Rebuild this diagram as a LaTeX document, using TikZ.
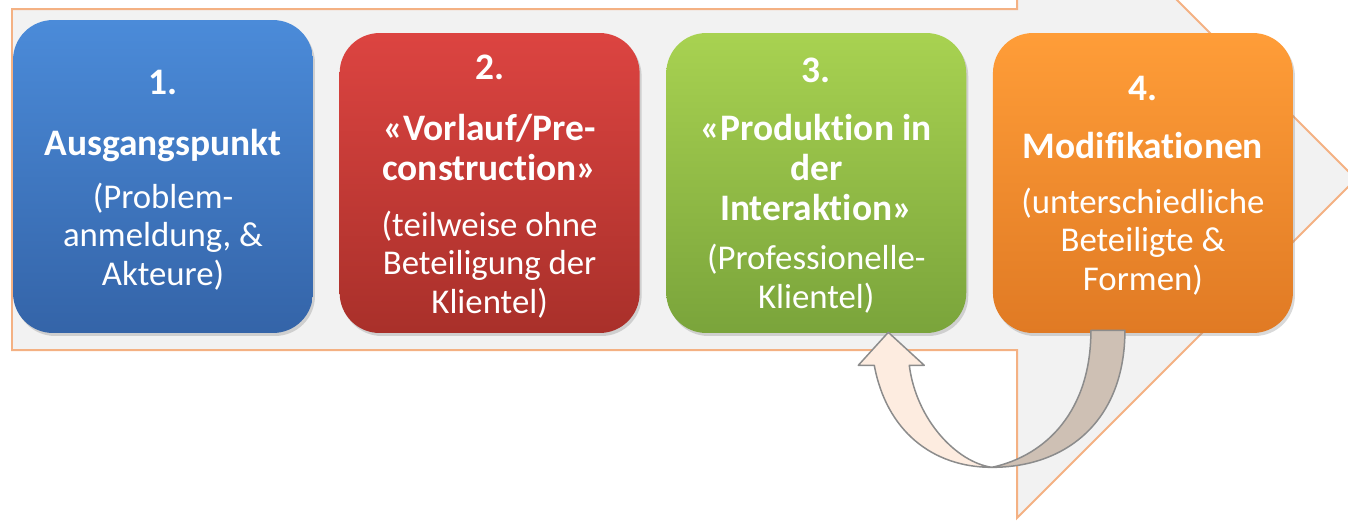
\documentclass[tikz,border=0pt]{standalone}
\usepackage{fontspec}
\setmainfont{Carlito}[RawFeature={-liga;-clig;-calt}]
\usetikzlibrary{positioning, shadows}

\definecolor{blueA}{HTML}{4B8BD9}
\definecolor{blueB}{HTML}{3464A8}
\definecolor{redA}{HTML}{DC4441}
\definecolor{redB}{HTML}{A9302A}
\definecolor{greenA}{HTML}{A8D251}
\definecolor{greenB}{HTML}{7AA43B}
\definecolor{orangeA}{HTML}{FF9D38}
\definecolor{orangeB}{HTML}{E07A24}
\definecolor{arrowfill}{HTML}{F2F2F2}
\definecolor{arrowline}{HTML}{F4B183}
\definecolor{backfill}{HTML}{CEC0B4}
\definecolor{frontfill}{HTML}{FDECE0}
\definecolor{loopline}{HTML}{8C8C8C}

\begin{document}
\begin{tikzpicture}[x=0.02cm, y=-0.02cm,
    stagebox/.style={rounded corners=0.8cm, minimum width=6cm, minimum height=6cm, inner sep=0pt,
      drop shadow={opacity=0.3, shadow xshift=0.04cm, shadow yshift=-0.06cm}},
    headtext/.style={text=white, align=center, inner sep=0pt, anchor=base,
      font=\fontsize{21.3}{22.7}\selectfont\bfseries},
    bodytext/.style={text=white, align=center, inner sep=0pt, anchor=base,
      font=\fontsize{19.8}{21.8}\selectfont},
    bendback/.style={fill=backfill, draw=loopline, line width=0.03cm, line join=round},
    bendfront/.style={fill=frontfill, draw=loopline, line width=0.03cm, line join=round}]

    \clip (0,0) rectangle (1348,522);

    % background arrow %
    \draw[fill=arrowfill, draw=arrowline, line width=0.04cm]
      (12,9) -- (1017,9) -- (1017,-160) -- (1356,179) -- (1017,518) -- (1017,350) -- (12,350) -- cycle;

    % nodes %
    \node[stagebox, minimum height=6.26cm, top color=blueA, bottom color=blueB] (start) at (163,176.5) {};
    \node[stagebox, right=0.52cm of start.south east, anchor=south west, top color=redA, bottom color=redB] (pre) {};
    \node[stagebox, right=0.52cm of pre.south east, anchor=south west, top color=greenA, bottom color=greenB] (prod) {};
    \node[stagebox, right=0.52cm of prod.south east, anchor=south west, top color=orangeA, bottom color=orangeB] (mod) {};

    % text sits on the baseline of its last line
    \node[headtext] (starthead) at (start |- 0,155) {1.\\[12pt]Ausgangspunkt};
    \node[bodytext] (starttext) at (start |- 0,285) {(Problem-\\anmeldung, \&\\Akteure)};

    \node[headtext] (prehead) at (pre |- 0,180) {2.\\[12pt]«Vorlauf/Pre-\\construction»};
    \node[bodytext] (pretext) at (pre |- 0,313) {(teilweise ohne\\Beteiligung der\\Klientel)};

    \node[headtext] (prodhead) at (prod |- 0,220) {3.\\[10pt]«Produktion in\\der\\Interaktion»};
    \node[bodytext] (prodtext) at (prod |- 0,308) {(Professionelle-\\Klientel)};

    \node[headtext] (modhead) at (mod |- 0,158) {4.\\[10pt]Modifikationen};
    \node[bodytext] (modtext) at (mod |- 0,290) {(unterschiedliche\\Beteiligte \&\\Formen)};

    % edges %
    \path (mod.south) ++(-52,-3) coordinate (tailL) ++(34,0) coordinate (tailR);
    \path (prod.south) ++(72,-1) coordinate (tip) ++(-14,33) coordinate (outerL);
    \path (tailL) ++(-99,137) coordinate (bot);
    \draw[bendback] (tailL) -- (tailR) .. controls +(0,90) and +(75,0) .. (bot)
      .. controls +(55,-12) and +(0,80) .. (tailL) -- cycle;
    \draw[bendfront] (tip) -- ++(36,33) -- ++(-15,0) .. controls +(7,55) and +(-35,-5) .. (bot)
      .. controls +(-60,0) and +(12,65) .. (outerL) -- ++(-16,0) -- cycle;
\end{tikzpicture}
\end{document}
